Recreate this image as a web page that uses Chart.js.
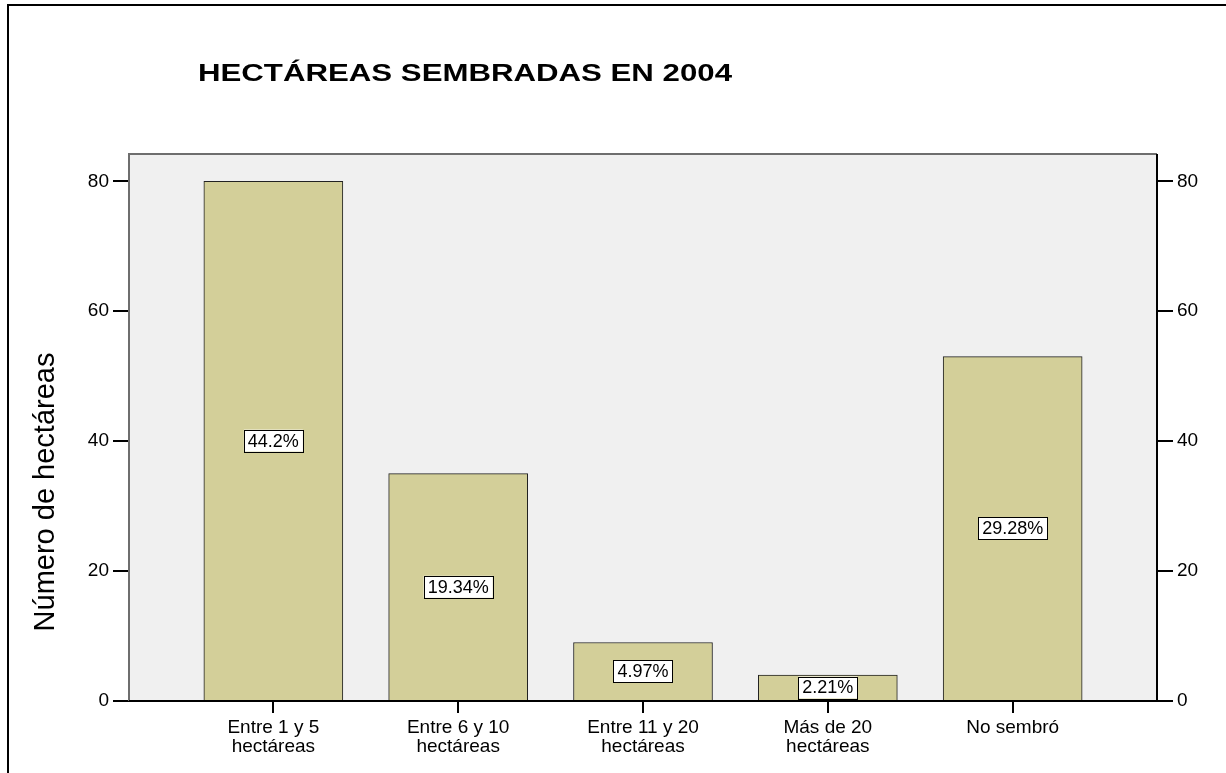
<!DOCTYPE html>
<html>
<head>
<meta charset="utf-8">
<script src="https://cdn.jsdelivr.net/npm/chart.js@4"></script>
<style>
  html, body { margin: 0; padding: 0; background: #fff; }
</style>
</head>
<body>
<canvas id="myChart" width="1226" height="773"></canvas>
<script>
// data
const categories = [
    ['Entre 1 y 5', 'hectáreas'],
    ['Entre 6 y 10', 'hectáreas'],
    ['Entre 11 y 20', 'hectáreas'],
    ['Más de 20', 'hectáreas'],
    'No sembró',
];
const values = [80, 35, 9, 4, 53];
const percents = ['44.2%', '19.34%', '4.97%', '2.21%', '29.28%'];
const yTicks = [0, 20, 40, 60, 80];

const FONT = "'Liberation Sans', Arial, sans-serif";
Chart.defaults.font.family = FONT;
Chart.defaults.color = '#000';

const tickFont = { size: 19, lineHeight: 1.0 };

const framePlugin = {
    id: 'frame',
    beforeDraw(chart) {
        const ctx = chart.ctx;
        ctx.save();
        ctx.fillStyle = '#fff';
        ctx.fillRect(0, 0, chart.width, chart.height);
        // outer frame (left and top only)
        ctx.strokeStyle = '#000';
        ctx.lineWidth = 2;
        ctx.beginPath();
        ctx.moveTo(8, chart.height);
        ctx.lineTo(8, 5);
        ctx.lineTo(chart.width, 5);
        ctx.stroke();
        // title
        ctx.fillStyle = '#000';
        ctx.font = 'bold 24px ' + FONT;
        ctx.textBaseline = 'middle';
        ctx.textAlign = 'left';
        ctx.translate(198, 74);
        ctx.scale(1.3, 1);
        ctx.fillText('HECTÁREAS SEMBRADAS EN 2004', 0, 0);
        ctx.restore();
        // y axis title
        ctx.save();
        ctx.fillStyle = '#000';
        ctx.font = '29px ' + FONT;
        ctx.textBaseline = 'middle';
        ctx.textAlign = 'center';
        ctx.translate(46, 492);
        ctx.rotate(-Math.PI / 2);
        ctx.fillText('Número de hectáreas', 0, 0);
        ctx.restore();
    },
    beforeDatasetsDraw(chart) {
        const { ctx, chartArea: a } = chart;
        ctx.save();
        ctx.fillStyle = '#f0f0f0';
        ctx.fillRect(a.left, a.top, a.width, a.height);
        ctx.restore();
    },
    afterDatasetsDraw(chart) {
        const { ctx, chartArea: a } = chart;
        ctx.save();
        ctx.lineWidth = 2;
        ctx.strokeStyle = '#6e6e6e';
        ctx.beginPath();
        ctx.moveTo(a.left, a.bottom);
        ctx.lineTo(a.left, a.top);
        ctx.lineTo(a.right, a.top);
        ctx.stroke();
        ctx.strokeStyle = '#000';
        ctx.beginPath();
        ctx.moveTo(a.right, a.top);
        ctx.lineTo(a.right, a.bottom);
        ctx.lineTo(a.left, a.bottom);
        ctx.stroke();

        // percentage boxes in the middle of each bar
        ctx.font = '18px ' + FONT;
        ctx.textAlign = 'center';
        ctx.textBaseline = 'middle';
        chart.getDatasetMeta(0).data.forEach((bar, i) => {
            const cx = bar.x;
            const cy = (bar.y + bar.base) / 2;
            const w = ctx.measureText(percents[i]).width + 8;
            const h = 22;
            ctx.fillStyle = '#fff';
            ctx.fillRect(cx - w / 2, cy - h / 2, w, h);
            ctx.lineWidth = 1;
            ctx.strokeStyle = '#000';
            ctx.strokeRect(Math.round(cx - w / 2) + 0.5, Math.round(cy - h / 2) + 0.5, Math.round(w), h);
            ctx.fillStyle = '#000';
            ctx.fillText(percents[i], cx, cy + 1);
        });
        ctx.restore();
    }
};

const yScale = (position, width) => ({
    position: position,
    min: 0,
    max: 84.2,
    afterBuildTicks: s => { s.ticks = yTicks.map(v => ({ value: v })); },
    ticks: { font: tickFont, color: '#000', padding: 4 },
    grid: { drawOnChartArea: false, drawTicks: true, tickLength: 16, color: '#000', lineWidth: 2 },
    border: { display: false },
    afterFit: s => { s.width = width; },
});

const ctx = document.getElementById('myChart');
const myChart = new Chart(ctx, {
    type: 'bar',
    data: {
        datasets: [{
            data: values.map((v, i) => ({ x: i + 1, y: v })),
            backgroundColor: '#d3cf99',
            borderColor: '#222',
            borderWidth: 1,
            barThickness: 139,
            yAxisID: 'y',
        }]
    },
    options: {
        responsive: false,
        animation: false,
        layout: { padding: { top: 154, left: 0, right: 0, bottom: 0 } },
        plugins: {
            legend: { display: false },
            tooltip: { enabled: false },
        },
        scales: {
            x: {
                type: 'linear',
                offset: false,
                min: 0.219,
                max: 5.781,
                afterBuildTicks: s => { s.ticks = categories.map((c, i) => ({ value: i + 1 })); },
                ticks: {
                    font: tickFont,
                    color: '#000',
                    padding: 5,
                    maxRotation: 0,
                    autoSkip: false,
                    callback: v => categories[Math.round(v) - 1],
                },
                grid: { offset: false, drawOnChartArea: false, drawTicks: true, tickLength: 12, color: '#000', lineWidth: 2 },
                border: { display: false },
                afterFit: s => { s.height = 72; },
            },
            y: yScale('left', 129),
            y2: yScale('right', 69),
        },
    },
    plugins: [framePlugin],
});
</script>
</body>
</html>
